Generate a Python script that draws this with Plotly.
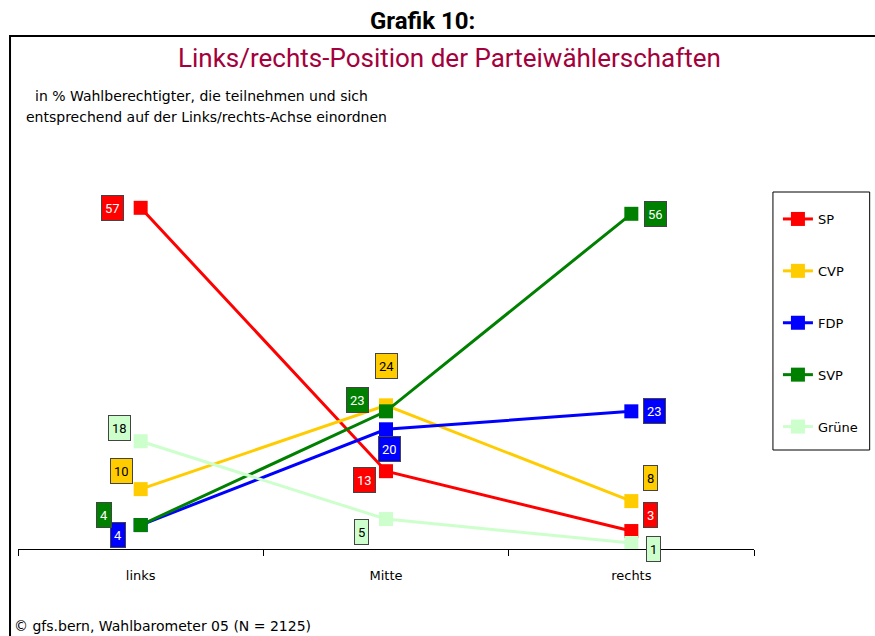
import plotly.graph_objects as go

categories = ["links", "Mitte", "rechts"]
parties = ["SP", "CVP", "FDP", "SVP", "Grüne"]
sp = [57, 13, 3]
cvp = [10, 24, 8]
fdp = [4, 20, 23]
svp = [4, 23, 56]
gruene = [18, 5, 1]
series = [sp, cvp, fdp, svp, gruene]

colors = ["#FF0000", "#FFCC00", "#0000FF", "#008000", "#CCFFCC"]
label_font_colors = ["white", "black", "white", "white", "black"]
# pixel offsets of the value boxes (styling)
offsets = [
    [(-28, 0), (-22, -9), (19, 16)],
    [(-19, 18), (0, 39), (19, 23)],
    [(-23, -10), (3, -20), (23, 0)],
    [(-37, 10), (-29, 11), (24, 0)],
    [(-21, 13), (-25, -13), (22, -6)],
]

W, H = 875, 636
L, R, T, B = 18, 119, 130, 87
PW, PH = W - L - R, H - T - B
SMALL = "DejaVu Sans, Verdana, sans-serif"

def px(x):
    return (x - L) / PW

def py(y):
    return (H - B - y) / PH

fig = go.Figure()
for name, vals, col in zip(parties, series, colors):
    fig.add_trace(go.Scatter(
        x=categories, y=vals, name=name, mode="lines+markers",
        line=dict(color=col, width=3),
        marker=dict(symbol="square", size=14, color=col),
        legendgroup=name, cliponaxis=False,
    ))

for i, (vals, col, fc) in enumerate(zip(series, colors, label_font_colors)):
    for j, v in enumerate(vals):
        dx, dy = offsets[i][j]
        fig.add_annotation(
            x=categories[j], y=v, xref="x", yref="y", text=str(v),
            showarrow=False, xshift=dx, yshift=dy, height=18,
            bgcolor=col, bordercolor="#444444", borderwidth=1, borderpad=3,
            font=dict(family="Roboto, sans-serif", size=13, color=fc),
        )

# titles and notes
fig.add_annotation(x=px(424), y=py(21), xref="paper", yref="paper",
                   xanchor="center", yanchor="middle",
                   text="<b>Grafik 10:</b>",
                   showarrow=False, font=dict(family="Roboto, sans-serif", size=24, color="black"))
fig.add_annotation(x=px(451), y=py(58), xref="paper", yref="paper",
                   xanchor="center", yanchor="middle",
                   text="Links/rechts-Position der Parteiwählerschaften",
                   showarrow=False, font=dict(family="Roboto, sans-serif", size=26, color="#A3003C"))
fig.add_annotation(x=px(202), y=py(96), xref="paper", yref="paper",
                   xanchor="center", yanchor="middle",
                   text="in % Wahlberechtigter, die teilnehmen und sich",
                   showarrow=False, font=dict(family=SMALL, size=14, color="black"))
fig.add_annotation(x=px(207), y=py(117), xref="paper", yref="paper",
                   xanchor="center", yanchor="middle",
                   text="entsprechend auf der Links/rechts-Achse einordnen",
                   showarrow=False, font=dict(family=SMALL, size=14, color="black"))
fig.add_annotation(x=px(12), y=py(626), xref="paper", yref="paper", xanchor="left", yanchor="middle",
                   text="© gfs.bern, Wahlbarometer 05 (N = 2125)",
                   showarrow=False, font=dict(family=SMALL, size=14, color="black"))

fig.add_shape(type="rect", xref="paper", yref="paper",
              x0=px(10), x1=px(890), y0=py(36), y1=py(660),
              line=dict(color="black", width=2), layer="below")
# legend frame
fig.add_shape(type="rect", xref="paper", yref="paper",
              x0=px(775), x1=px(872), y0=py(192), y1=py(450),
              line=dict(color="black", width=1), layer="below")

fig.update_layout(
    width=W, height=H,
    margin=dict(l=L, r=R, t=T, b=B),
    paper_bgcolor="white", plot_bgcolor="white",
    showlegend=True,
    legend=dict(x=px(780), y=py(204), xanchor="left", yanchor="top",
                borderwidth=0, bgcolor="rgba(0,0,0,0)",
                font=dict(family=SMALL, size=13, color="black"),
                tracegroupgap=32, itemwidth=30),
    xaxis=dict(type="category", range=[-0.5, 2.5], showgrid=False, showline=True,
               linecolor="black", linewidth=1, ticks="outside", ticklen=6,
               tickcolor="black", tickson="boundaries", zeroline=False,
               ticklabelstandoff=14,
               tickfont=dict(family=SMALL, size=13, color="black")),
    yaxis=dict(range=[0, 70], visible=False, showgrid=False, zeroline=False),
)

fig.write_html("out.html", config={"displayModeBar": False},
               post_script="document.body.style.margin='0';document.body.style.overflow='hidden';")
